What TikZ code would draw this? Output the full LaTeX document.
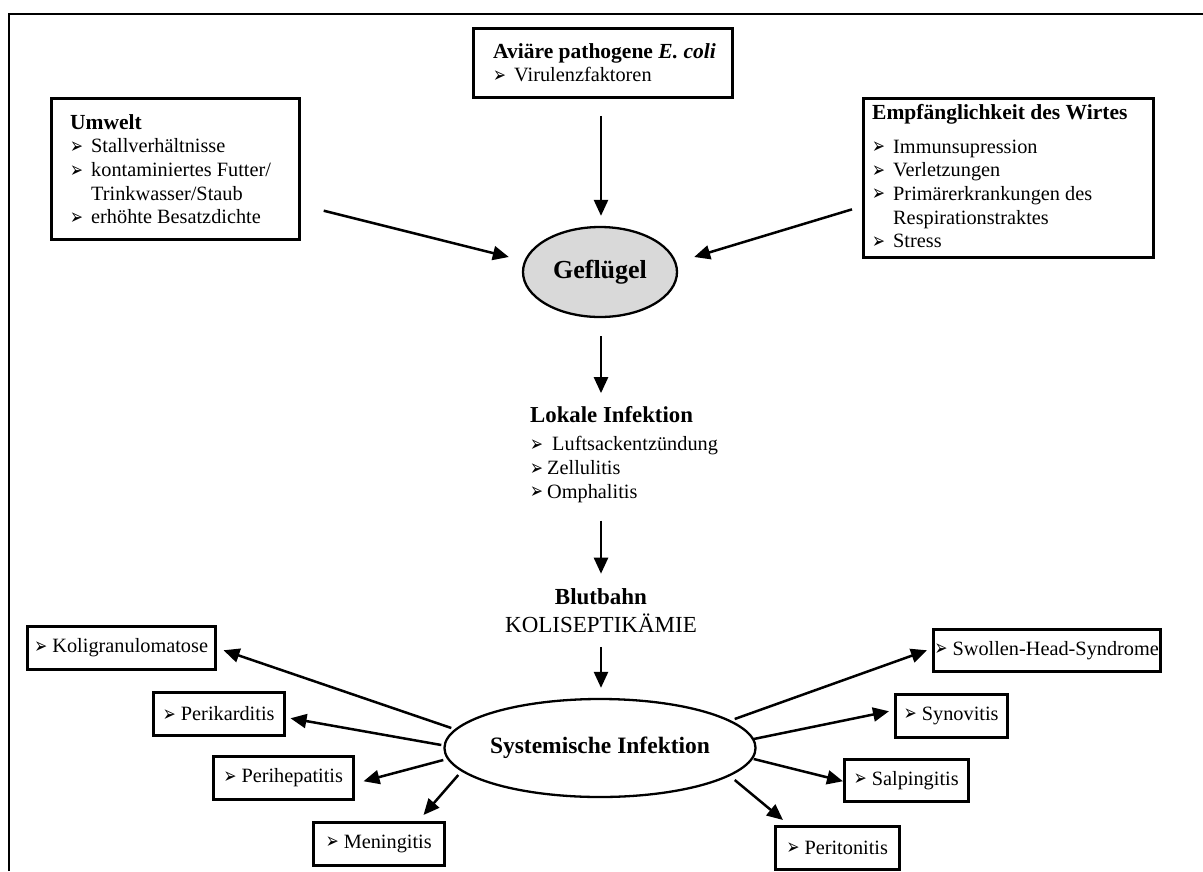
\documentclass[tikz,border=0pt]{standalone}
\usepackage{fontspec}
\setmainfont{Liberation Serif}
\newfontfamily\dejavu{DejaVu Sans}
\usetikzlibrary{arrows.meta,calc,shapes.geometric}
\newcommand\bul{{\dejavu\fontsize{22}{14}\selectfont\raisebox{-0.5pt}{\scalebox{0.7}[1.0]{➢}}}}
\newcommand\bitem[2][21pt]{\makebox[#1][l]{\bul}#2}
\newcommand\bcont[1]{\hspace*{21pt}#1}
\newcommand\ttl[1]{{\fontsize{21.5}{23.7}\selectfont\bfseries #1}}
\begin{document}
\begin{tikzpicture}[x=1pt,y=-1pt,
  body/.style={font=\fontsize{20.3}{23.7}\selectfont},
  box/.style={draw, line width=2.7pt, rectangle, inner sep=0pt, anchor=north west},
  obox/.style={draw, line width=2.5pt, rectangle, inner sep=0pt, anchor=north west, minimum height=43pt, body},
  txt/.style={inner sep=0pt, anchor=north west, align=left, body},
  arr/.style={line width=2.5pt, -{Triangle[length=16pt,width=14pt]}},
  ell/.style={draw, ellipse, line width=2.3pt, inner sep=0pt}]
\useasboundingbox (0,0) rectangle (1203,871);
% frame
\draw[line width=2.3pt] (9,871) -- (9,14) -- (1203,14);

% top boxes
\node[box, minimum width=259pt, minimum height=69pt] (apec) at (472,27) {};
\node[txt] (apecT) at (493,43) {\ttl{Aviäre pathogene \textit{E. coli}}\\ \bitem{Virulenzfaktoren}};

\node[box, minimum width=248pt, minimum height=141pt] (umw) at (50,97) {};
\node[txt] (umwT) at (70,114) {\ttl{Umwelt}\\ \bitem{Stallverhältnisse}\\ \bitem{kontaminiertes Futter/}\\ \bcont{Trinkwasser/Staub}\\ \bitem{erhöhte Besatzdichte}};

\node[box, minimum width=290pt, minimum height=159pt] (host) at (862,97) {};
\node[txt] (hostT) at (872,104) {\ttl{Empfänglichkeit des Wirtes}\\[10pt] \bitem{Immunsupression}\\ \bitem{Verletzungen}\\ \bitem{Primärerkrankungen des}\\ \bcont{Respirationstraktes}\\ \bitem{Stress}};

% Gefluegel
\node[ell, fill=black!15, minimum width=154pt, minimum height=90pt, font=\fontsize{26}{30}\selectfont\bfseries] (gef) at (600,272) {Geflügel};

% Lokale Infektion
\node[txt] (lok) at (530,406) {\ttl{\fontsize{22.8}{23.7}\selectfont Lokale Infektion}\\[5pt] \bitem[22pt]{Luftsackentzündung}\\ \bitem[17pt]{Zellulitis}\\ \bitem[17pt]{Omphalitis}};

% Blutbahn
\node[inner sep=0pt, align=center, font=\fontsize{23}{28}\selectfont] (blut) at (601,611) {\textbf{Blutbahn}\\ KOLISEPTIKÄMIE};

% Systemische Infektion
\node[ell, minimum width=260pt, minimum height=98pt, font=\fontsize{23.5}{28}\selectfont\bfseries] (sys) at (600,748) {Systemische Infektion};

% outcome boxes
\node[obox, minimum width=188pt] (koli) at (26,625) {\bul\ Koligranulomatose};
\node[obox, minimum width=131pt] (perik) at (152,691) {\bul\ Perikarditis};
\node[obox, minimum width=140pt] (perih) at (212,755) {\bul\ Perihepatitis};
\node[obox, minimum width=131pt] (mening) at (312,821) {\bul\ Meningitis};
\node[obox, minimum width=227pt, minimum height=42pt] (swol) at (932,628) {\bul\ Swollen-Head-Syndrome};
\node[obox, minimum width=112pt] (syn) at (894,693) {\bul\ Synovitis};
\node[obox, minimum width=124pt, minimum height=42pt] (salp) at (843,758) {\bul\ Salpingitis};
\node[obox, minimum width=124pt] (perit) at (774,825) {\bul\ Peritonitis};

% arrows into Gefluegel
\draw[arr] ($(gef.north)+(1,-110)$) -- ($(gef.north)+(1,-10)$);
\draw[arr] ($(umw.south east)+(23,-30)$) -- ($(gef.west)+(-13,-15)$);
\draw[arr] ($(host.west)+(-10,31.5)$) -- ($(gef.east)+(16,-15)$);
% vertical chain
\draw[arr] ($(gef.south)+(1,18)$) -- ($(gef.south)+(1,75)$);
\draw[arr] ($(blut.north)+(0,-68)$) -- ($(blut.north)+(0,-15)$);
\draw[arr] ($(sys.north)+(1,-51)$) -- ($(sys.north)+(1,-10)$);
% radial arrows
\draw[arr] ($(sys.west)+(8,-20)$) -- ($(koli.east)+(7,2.5)$);
\draw[arr] ($(sys.west)+(-2,-3)$) -- ($(perik.east)+(5,4.5)$);
\draw[arr] ($(sys.west)+(0,12)$) -- ($(perih.east)+(9,3.5)$);
\draw[arr] ($(sys.west)+(15,27)$) -- ($(mening.north east)+(-22,-6)$);
\draw[arr] ($(sys.east)+(-22,-29)$) -- ($(swol.west)+(-5,0)$);
\draw[arr] ($(sys.east)+(-3,-9)$) -- ($(syn.west)+(-5,-4.5)$);
\draw[arr] ($(sys.east)+(-3,11)$) -- ($(salp.west)+(0,1)$);
\draw[arr] ($(sys.east)+(-22,32)$) -- ($(perit.north west)+(9,-5)$);
\end{tikzpicture}
\end{document}
